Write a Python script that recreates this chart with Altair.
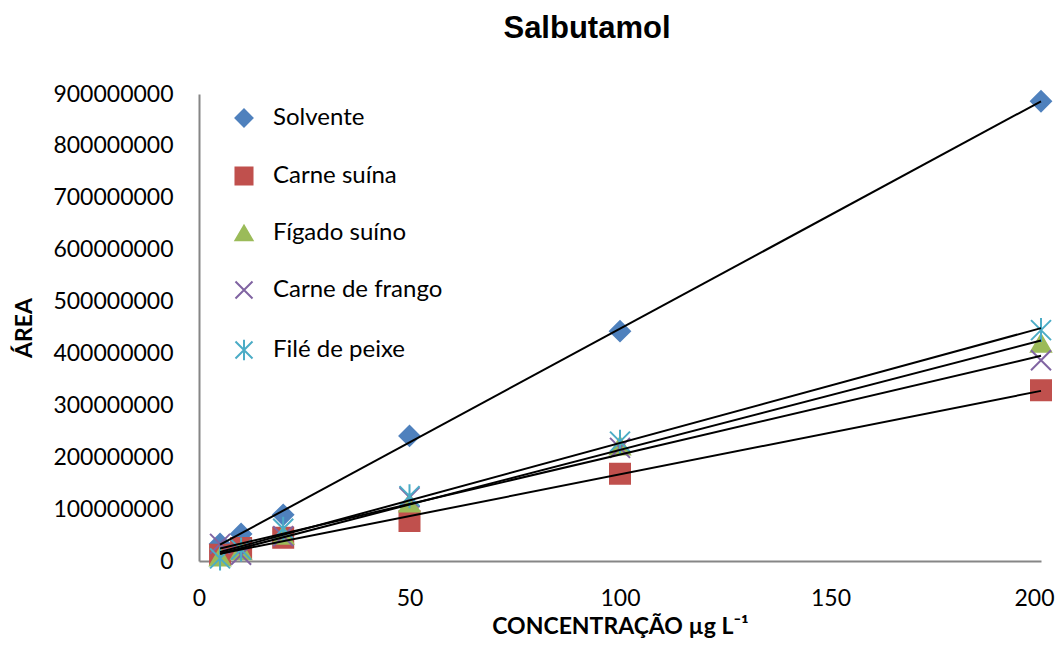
import altair as alt
import pandas as pd

conc = [5, 10, 20, 50, 100, 200]
series_names = ["Solvente", "Carne suína", "Fígado suíno", "Carne de frango", "Filé de peixe"]
solvente = [33e6, 52e6, 89e6, 241e6, 443e6, 886e6]
carne_suina = [12e6, 25e6, 45e6, 77e6, 168e6, 329e6]
figado_suino = [8e6, 20e6, 50e6, 112e6, 222e6, 420e6]
carne_frango = [33e6, 12e6, 48e6, 123e6, 218e6, 387e6]
file_peixe = [5e6, 22e6, 62e6, 125e6, 230e6, 445e6]

colors = ["#4F81BD", "#C0504D", "#9BBB59", "#8064A2", "#4BACC6"]
shapes = ["diamond", "square", "triangle-up",
          "M-1,-1L1,1M-1,1L1,-1",
          "M-1,-1L1,1M-1,1L1,-1M0,-1.2L0,1.2"]

rows = []
for name, vals in zip(series_names, [solvente, carne_suina, figado_suino, carne_frango, file_peixe]):
    for c, v in zip(conc, vals):
        rows.append({"x": c, "y": v, "series": name})
df = pd.DataFrame(rows)

FONT = "Lato"

xs = alt.Scale(domain=[0, 200], nice=False)
ys = alt.Scale(domain=[0, 900000000], nice=False)
cscale = alt.Scale(domain=series_names, range=colors)

points = alt.Chart(df).mark_point(filled=True, size=400, strokeWidth=2, opacity=1).encode(
    x=alt.X("x:Q", scale=xs,
            axis=alt.Axis(title="CONCENTRAÇÃO µg L⁻¹", values=[0, 50, 100, 150, 200],
                          labelPadding=26, titlePadding=5, labelFlush=False,
                          labelOffset={"condition": {"test": "datum.value == 200", "value": -7},
                                       "value": 0})),
    y=alt.Y("y:Q", scale=ys,
            axis=alt.Axis(title="ÁREA", format="d",
                          values=[0, 100000000, 200000000, 300000000, 400000000,
                                  500000000, 600000000, 700000000, 800000000, 900000000],
                          labelPadding=26, titlePadding=16)),
    color=alt.Color("series:N", scale=cscale,
                    legend=alt.Legend(title=None, orient="none", legendX=33, legendY=12,
                                      symbolSize=290, symbolStrokeWidth=2, labelFontSize=24,
                                      labelFont=FONT, labelOffset=17, rowPadding=32,
                                      labelLimit=400, padding=0, labelColor="#000000")),
    stroke=alt.Stroke("series:N", scale=cscale),
    shape=alt.Shape("series:N", scale=alt.Scale(domain=series_names, range=shapes)),
)

lines = alt.Chart(df).transform_regression(
    "x", "y", groupby=["series"], extent=[5, 200]
).mark_line(color="#000000", strokeWidth=2).encode(
    x=alt.X("x:Q", scale=xs),
    y=alt.Y("y:Q", scale=ys),
    detail="series:N",
)

chart = alt.layer(points, lines).properties(
    width=842, height=467,
    title=alt.TitleParams("Salbutamol", fontSize=31, font="Liberation Sans", fontWeight="bold",
                          anchor="middle", dx=-33, offset=38, color="#000000"),
    autosize=alt.AutoSizeParams(type="none"),
    padding={"left": 191, "top": 86, "right": 14, "bottom": 77},
).configure_axis(
    domainColor="#868686", domainWidth=2, ticks=False, grid=False,
    labelFont=FONT, labelFontSize=23, labelColor="#000000",
    titleFont=FONT, titleFontSize=23, titleFontWeight="bold", titleColor="#000000",
).configure_view(stroke=None)

chart.save("out.html", embed_options={"renderer": "svg", "actions": False})
